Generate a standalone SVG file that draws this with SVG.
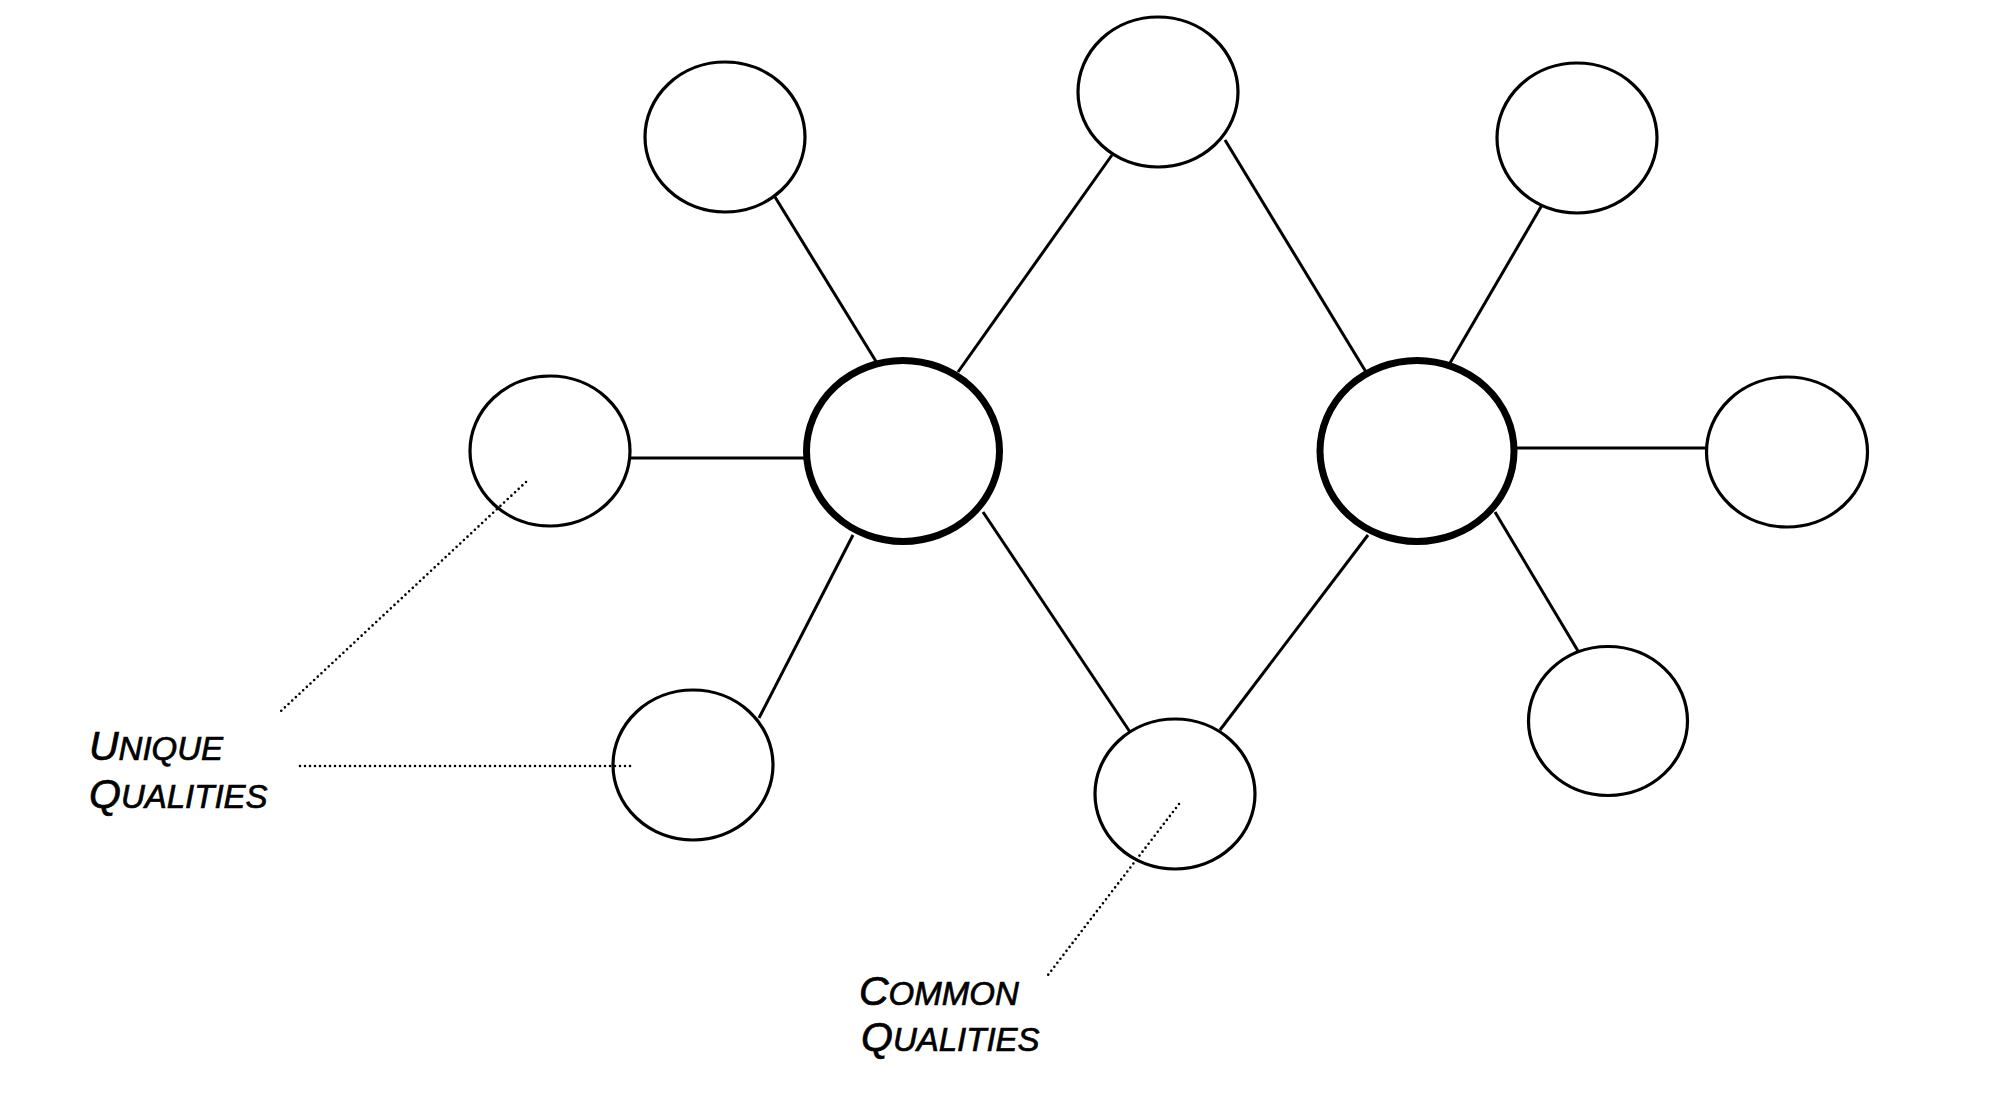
<svg xmlns="http://www.w3.org/2000/svg" width="1992" height="1098" viewBox="0 0 1992 1098">
<style>
.node{fill:#fff;stroke:#000;stroke-width:3.2}
.hub{fill:#fff;stroke:#000;stroke-width:7}
.edge{stroke:#000;stroke-width:3;fill:none}
.dot{stroke:#000;stroke-width:2.6;stroke-linecap:round;stroke-dasharray:0 5;fill:none}
.lbl{font-family:"Liberation Sans",Arial,sans-serif;font-style:italic;fill:#000;stroke:#000;stroke-width:0.7}
.big{font-size:41px}
.sm{font-size:33px}
</style>
<rect width="1992" height="1098" fill="#fff"/>
<g id="connectors">
<line class="edge" x1="775" y1="197" x2="877" y2="363"/>
<line class="edge" x1="1112" y1="155" x2="958" y2="372"/>
<line class="edge" x1="1225" y1="140" x2="1366" y2="372"/>
<line class="edge" x1="1542" y1="205" x2="1450" y2="363"/>
<line class="edge" x1="1517" y1="448" x2="1707" y2="448"/>
<line class="edge" x1="1495" y1="512" x2="1578" y2="651"/>
<line class="edge" x1="1368" y1="535" x2="1220" y2="730"/>
<line class="edge" x1="983" y1="512" x2="1130" y2="732"/>
<line class="edge" x1="853" y1="535" x2="759" y2="718"/>
<line class="edge" x1="630" y1="458" x2="806" y2="458"/>
</g>
<g id="nodes">
<g id="node-top-left"><ellipse class="node" cx="725" cy="137" rx="80" ry="75"/></g>
<g id="node-top-middle"><ellipse class="node" cx="1158" cy="92" rx="80" ry="75"/></g>
<g id="node-top-right"><ellipse class="node" cx="1577" cy="138" rx="80" ry="75"/></g>
<g id="node-left"><ellipse class="node" cx="550" cy="451" rx="80" ry="75"/></g>
<g id="hub-left"><ellipse class="hub" cx="903" cy="451" rx="96.5" ry="90.5"/></g>
<g id="hub-right"><ellipse class="hub" cx="1417" cy="451" rx="97" ry="90.5"/></g>
<g id="node-right"><ellipse class="node" cx="1787" cy="452" rx="80.5" ry="75"/></g>
<g id="node-bottom-left"><ellipse class="node" cx="693" cy="765" rx="80" ry="75"/></g>
<g id="node-bottom-middle"><ellipse class="node" cx="1175" cy="794" rx="80" ry="75"/></g>
<g id="node-bottom-right"><ellipse class="node" cx="1608" cy="721" rx="79.5" ry="74.5"/></g>
</g>
<g id="annotations">
<line class="dot" x1="526" y1="482" x2="281" y2="711"/>
<line class="dot" x1="300" y1="766" x2="633" y2="766"/>
<line class="dot" x1="1179" y1="804" x2="1048" y2="975"/>
<text class="lbl" x="89" y="760"><tspan class="big">U</tspan><tspan class="sm">NIQUE</tspan></text>
<text class="lbl" x="89" y="808"><tspan class="big">Q</tspan><tspan class="sm">UALITIES</tspan></text>
<text class="lbl" x="859" y="1005"><tspan class="big">C</tspan><tspan class="sm">OMMON</tspan></text>
<text class="lbl" x="861" y="1051"><tspan class="big">Q</tspan><tspan class="sm">UALITIES</tspan></text>
</g>
</svg>
